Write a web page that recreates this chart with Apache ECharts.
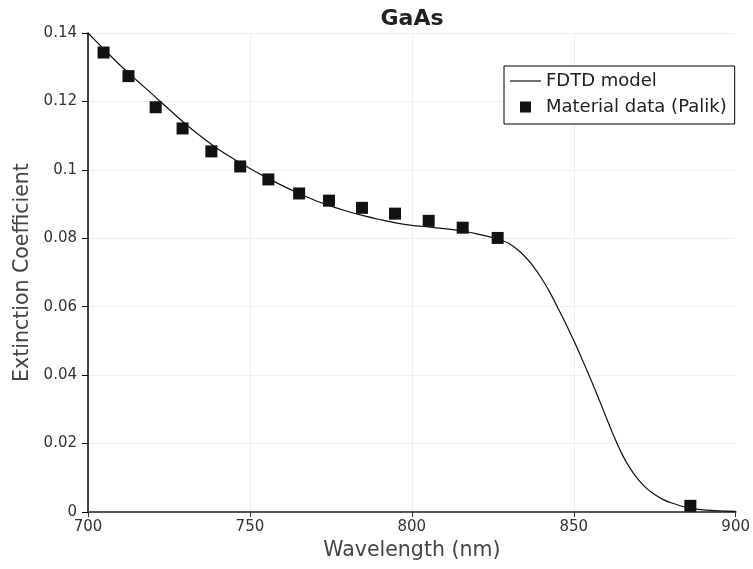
<!DOCTYPE html>
<html>
<head>
<meta charset="utf-8">
<script src="https://cdn.jsdelivr.net/npm/echarts@6/dist/echarts.min.js"></script>
<style>html,body{margin:0;padding:0;background:#fff}#c{width:753px;height:569px}</style>
</head>
<body>
<div id="c"></div>
<script>
// FDTD model curve (wavelength nm, extinction coefficient)
const modelWavelength = [700,705,710,715,720,725,730,735,740,745,750,755,760,765,770,775,780,785,790,795,800,805,810,815,820,825,827.5,830,832.5,835,837.5,840,842.5,845,847.5,850,852.5,855,857.5,860,862.5,865,867.5,870,872.5,875,877.5,880,885,890,895,900];
const modelK = [0.1400,0.1352,0.1305,0.1262,0.1220,0.1177,0.1135,0.1097,0.1062,0.1032,0.1004,0.0978,0.0954,0.0932,0.0911,0.0894,0.0879,0.0866,0.0855,0.0845,0.0838,0.0833,0.0828,0.0822,0.0813,0.0802,0.0795,0.0785,0.0768,0.0746,0.0718,0.0684,0.0644,0.0598,0.0551,0.0501,0.0448,0.0393,0.0336,0.0277,0.0219,0.0167,0.0126,0.0094,0.0069,0.0051,0.0037,0.0027,0.0013,0.0006,0.0003,0.0002];
// Material data (Palik)
const palikWavelength = [704.8,712.5,720.9,729.2,738.1,747.0,755.7,765.2,774.4,784.6,794.8,805.2,815.7,826.5,886.0];
const palikK = [0.1343,0.1274,0.1183,0.1121,0.1054,0.1010,0.0972,0.0931,0.0910,0.0889,0.0872,0.0851,0.0831,0.0801,0.0018];
const titleText = 'GaAs';
const xName = 'Wavelength (nm)';
const yName = 'Extinction Coefficient';
const seriesNames = ['FDTD model', 'Material data (Palik)'];

const font = 'DejaVu Sans';
const chart = echarts.init(document.getElementById('c'), null, {renderer: 'canvas'});
chart.setOption({
  animation: false,
  backgroundColor: '#fff',
  title: {
    text: titleText, left: 407, top: 3, textAlign: 'center',
    textStyle: {fontFamily: font, fontSize: 22, fontWeight: 'bold', color: '#222'}
  },
  legend: {
    left: 504, top: 66,
    orient: 'vertical',
    padding: [6, 8, 8, 6],
    itemGap: 8,
    itemWidth: 31, itemHeight: 11,
    symbolKeepAspect: true,
    borderColor: '#000', borderWidth: 1,
    backgroundColor: '#fff',
    textStyle: {fontFamily: font, fontSize: 18, color: '#222'},
    data: [
      {name: seriesNames[0], icon: 'path://M0,0L31,0L31,1.2L0,1.2Z', itemStyle: {color: '#111'}},
      {name: seriesNames[1], icon: 'path://M0,0L1,0L1,1L0,1Z', itemStyle: {color: '#111'}}
    ]
  },
  grid: {left: 88, right: 16, top: 33, bottom: 57, containLabel: false},
  xAxis: {
    type: 'value', min: 700, max: 900, interval: 50,
    name: xName, nameLocation: 'middle', nameGap: 27,
    nameTextStyle: {fontFamily: font, fontSize: 20.5, color: '#444'},
    axisLine: {show: true, onZero: false, lineStyle: {color: '#555', width: 2}},
    axisTick: {show: true, length: 5, lineStyle: {color: '#333'}},
    axisLabel: {fontFamily: font, fontSize: 15, color: '#333', margin: 8},
    splitLine: {show: true, showMaxLine: false, lineStyle: {color: '#eee', width: 1}}
  },
  yAxis: {
    type: 'value', min: 0, max: 0.14, interval: 0.02,
    name: yName, nameLocation: 'middle', nameGap: 45, nameRotate: 90,
    nameTextStyle: {fontFamily: font, fontSize: 20.5, color: '#444'},
    axisLine: {show: true, onZero: false, lineStyle: {color: '#000', width: 1.5}},
    axisTick: {show: true, length: 6, lineStyle: {color: '#000'}},
    axisLabel: {fontFamily: font, fontSize: 15, color: '#333', margin: 11},
    splitLine: {show: true, lineStyle: {color: '#eee', width: 1}}
  },
  series: [
    {
      name: seriesNames[0], type: 'line',
      data: modelWavelength.map((w, i) => [w, modelK[i]]),
      showSymbol: false, symbol: 'none', smooth: 0.3,
      lineStyle: {color: '#111', width: 1.2},
      itemStyle: {color: '#111'},
      z: 2
    },
    {
      name: seriesNames[1], type: 'scatter',
      data: palikWavelength.map((w, i) => [w, palikK[i]]),
      symbol: 'rect', symbolSize: 12,
      itemStyle: {color: '#111', opacity: 1},
      z: 3
    }
  ]
});
</script>
</body>
</html>
